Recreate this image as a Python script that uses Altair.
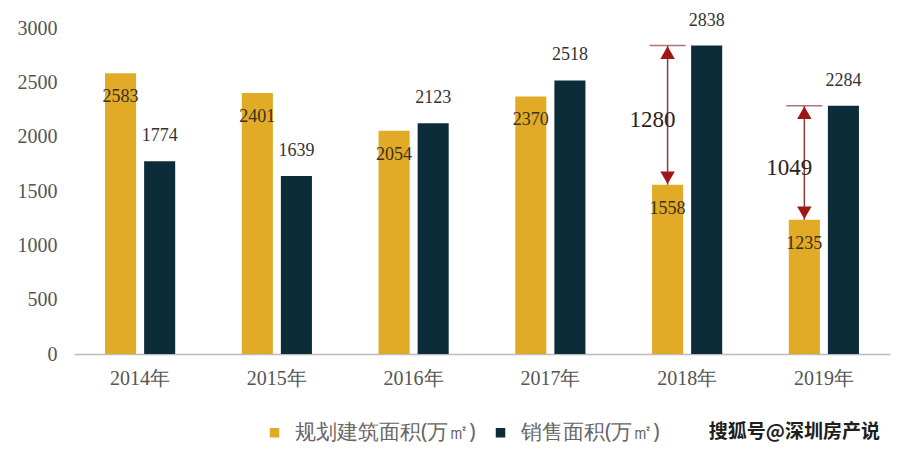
import altair as alt
import pandas as pd

years = ["2014年", "2015年", "2016年", "2017年", "2018年", "2019年"]
planned = [2583, 2401, 2054, 2370, 1558, 1235]
sold = [1774, 1639, 2123, 2518, 2838, 2284]
series = ["规划建筑面积(万㎡)", "销售面积(万㎡)"]
colors = ["#E1AA27", "#0D2C3A"]

gap_years = ["2018年", "2019年"]
gap_low = [1558, 1235]
gap_high = [2838, 2284]
gap_text = ["1280", "1049"]

rows = []
for y, p, s in zip(years, planned, sold):
    rows.append({"year": y, "series": series[0], "value": p})
    rows.append({"year": y, "series": series[1], "value": s})
df = pd.DataFrame(rows)

gdf = pd.DataFrame({
    "year": gap_years,
    "series": [series[0]] * len(gap_years),
    "low": gap_low,
    "high": gap_high,
    "mid": [(a + b) / 2 for a, b in zip(gap_low, gap_high)],
    "label": gap_text,
})

serif = "Liberation Serif"
xscale = alt.Scale(domain=years, paddingInner=0.487, paddingOuter=0.227)
yscale = alt.Scale(domain=[0, 3000])
offscale = alt.Scale(domain=series, paddingInner=0.205, paddingOuter=0)

X = alt.X("year:N", scale=xscale, sort=years, title=None,
          axis=alt.Axis(labelAngle=0, ticks=False, domainColor="#bbbbbb",
                        domainWidth=1.5, labelFont=serif, labelFontSize=20,
                        labelColor="#555555", labelPadding=14))
Y = alt.Y("value:Q", scale=yscale, title=None,
          axis=alt.Axis(values=[0, 500, 1000, 1500, 2000, 2500, 3000], format="d",
                        grid=False, domain=False, ticks=False,
                        labelFont=serif, labelFontSize=20, labelColor="#555555",
                        labelPadding=17))
XO = alt.XOffset("series:N", scale=offscale, sort=series)

bars = alt.Chart(df).mark_bar().encode(
    x=X, y=Y, xOffset=XO,
    color=alt.Color("series:N", sort=series,
                    scale=alt.Scale(domain=series, range=colors),
                    legend=alt.Legend(title=None, orient="none", direction="horizontal",
                                      legendX=190, legendY=394,
                                      symbolType="square", symbolSize=90,
                                      symbolStrokeWidth=0, labelFontSize=21,
                                      labelFont="Noto Sans", labelColor="#666666",
                                      labelOffset=10, columnPadding=14, padding=0,
                                      labelLimit=0)),
)

lab_planned = alt.Chart(df).transform_filter(
    alt.datum.series == series[0]
).mark_text(font=serif, fontSize=18, color="#3a3020", dy=24).encode(
    x=alt.X("year:N", scale=xscale, sort=years), y=alt.Y("value:Q", scale=yscale),
    xOffset=XO, text="value:Q")

lab_sold = alt.Chart(df).transform_filter(
    alt.datum.series == series[1]
).mark_text(font=serif, fontSize=18, color="#333333", dy=-25).encode(
    x=alt.X("year:N", scale=xscale, sort=years), y=alt.Y("value:Q", scale=yscale),
    xOffset=XO, text="value:Q")

gx = alt.X("year:N", scale=xscale, sort=years)
arrow_line = alt.Chart(gdf).mark_rule(color="#8c3b3b", strokeWidth=1.5).encode(
    x=gx, xOffset=XO, y=alt.Y("low:Q", scale=yscale), y2="high:Q")
top_tick = alt.Chart(gdf).mark_tick(color="#8c3b3b", thickness=1.5, size=36,
                                    orient="horizontal", xOffset=9).encode(
    x=gx, xOffset=XO, y=alt.Y("high:Q", scale=yscale))
head_up = alt.Chart(gdf).mark_point(shape="triangle-up", size=210, filled=True,
                                    color="#a01515", opacity=1, yOffset=7).encode(
    x=gx, xOffset=XO, y=alt.Y("high:Q", scale=yscale))
head_down = alt.Chart(gdf).mark_point(shape="triangle-down", size=210, filled=True,
                                      color="#a01515", opacity=1, yOffset=-7).encode(
    x=gx, xOffset=XO, y=alt.Y("low:Q", scale=yscale))
gap_lab = alt.Chart(gdf).mark_text(font=serif, fontSize=23, color="#2a2222",
                                   dx=-15, dy=5).encode(
    x=gx, xOffset=XO, y=alt.Y("mid:Q", scale=yscale), text="label:N")

watermark = alt.Chart(pd.DataFrame({"t": ["搜狐号@深圳房产说"]})).mark_text(
    font="Noto Sans CJK SC", fontSize=19, fontWeight="bold", color="#1e1e1e",
    align="right", baseline="middle").encode(
    x=alt.value(806), y=alt.value(404), text="t:N")

chart = alt.layer(bars, lab_planned, lab_sold, arrow_line, top_tick,
                  head_up, head_down, gap_lab, watermark).properties(
    width=816, height=326,
    autosize=alt.AutoSizeParams(type="none"),
    padding={"left": 66, "top": 20, "right": 2, "bottom": 90},
    background="#ffffff",
).configure_view(strokeWidth=0, stroke=None)

chart.save("out.html", embed_options={"renderer": "svg", "actions": False})
